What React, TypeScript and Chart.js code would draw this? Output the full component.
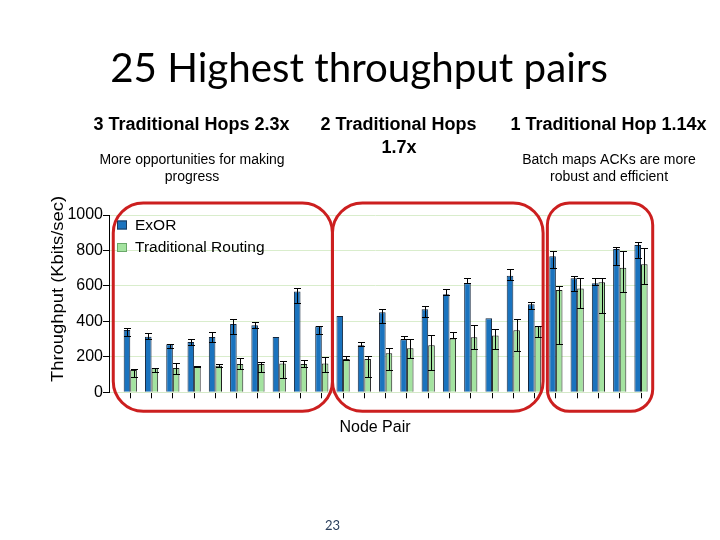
import { useEffect, useRef } from 'react';
import { Chart, registerables } from 'chart.js';

Chart.register(...registerables);

// ---- data ----
const pairs = [1, 2, 3, 4, 5, 6, 7, 8, 9, 10, 11, 12, 13, 14, 15, 16, 17, 18, 19, 20, 21, 22, 23, 24, 25];
const yTicks = [0, 200, 400, 600, 800, 1000];

const exor = [351, 314, 271, 284, 312, 385, 378, 312, 569, 372, 430, 265, 451, 299, 468, 553, 615, 417, 658, 496, 767, 643, 615, 808, 831];
const exorLo = [318, 299, 248, 267, 285, 327, 361, null, 505, 329, null, 263, 389, 299, 425, 549, 615, null, 633, 470, 699, 571, 605, 718, 756];
const exorHi = [364, 333, 271, 299, 338, 412, 395, null, 587, 372, null, 282, 470, 318, 485, 581, 643, null, 694, 511, 795, 658, 643, 821, 849];

const trad = [126, 137, 137, 148, 150, 160, 160, 163, 160, 163, 188, 188, 220, 248, 265, 304, 310, 321, 350, 372, 577, 586, 620, 703, 722];
const tradLo = [85, 113, 103, 141, 143, 130, 116, 79, 141, 113, 182, 88, 124, 192, 126, 304, 244, 242, 235, 314, 272, 474, 449, 567, 609];
const tradHi = [133, 137, 164, 150, 160, 192, 169, 175, 180, 197, 203, 206, 252, 299, 323, 342, 378, 355, 412, 372, 601, 643, 646, 797, 812];

const seriesNames = ['ExOR', 'Traditional Routing'];
const chartTitle = '25 Highest throughput pairs';
const xTitle = 'Node Pair';
const yTitle = 'Throughput (Kbits/sec)';
const pageNumber = '23';

// group highlight boxes, in x-axis units
const groupSpans = [
  [0.2, 10.5],
  [10.5, 20.4],
  [20.6, 25.55],
];
const groupRadius = [30, 30, 22];

const BLUE = '#1a73be';
const GREEN = '#a4e3a0';
const RED = '#cc1f1f';
const FONT = "'Liberation Sans', Arial, sans-serif";

const errorBarsPlugin = {
  id: 'errorBars',
  afterDatasetsDraw(chart: any) {
    const ctx = chart.ctx;
    const ys = chart.scales.y;
    const sets = [
      [exorLo, exorHi],
      [tradLo, tradHi],
    ];
    ctx.save();
    ctx.strokeStyle = '#000';
    ctx.lineWidth = 1;
    sets.forEach(([lo, hi], di) => {
      const meta = chart.getDatasetMeta(di);
      meta.data.forEach((bar: any, i: number) => {
        if (lo[i] == null || hi[i] == null) return;
        const x = Math.round(bar.x) + 0.5;
        const y1 = Math.round(ys.getPixelForValue(lo[i] as number)) + 0.5;
        const y2 = Math.round(ys.getPixelForValue(hi[i] as number)) + 0.5;
        ctx.beginPath();
        ctx.moveTo(x, y1);
        ctx.lineTo(x, y2);
        ctx.moveTo(x - 3.5, y1);
        ctx.lineTo(x + 3.5, y1);
        ctx.moveTo(x - 3.5, y2);
        ctx.lineTo(x + 3.5, y2);
        ctx.stroke();
      });
    });
    ctx.restore();
  },
};

function roundRect(ctx: CanvasRenderingContext2D, x: number, y: number, w: number, h: number, r: number) {
  ctx.beginPath();
  ctx.moveTo(x + r, y);
  ctx.lineTo(x + w - r, y);
  ctx.arcTo(x + w, y, x + w, y + r, r);
  ctx.lineTo(x + w, y + h - r);
  ctx.arcTo(x + w, y + h, x + w - r, y + h, r);
  ctx.lineTo(x + r, y + h);
  ctx.arcTo(x, y + h, x, y + h - r, r);
  ctx.lineTo(x, y + r);
  ctx.arcTo(x, y, x + r, y, r);
  ctx.closePath();
}

const decorPlugin = {
  id: 'decor',
  afterDraw(chart: any) {
    const ctx: CanvasRenderingContext2D = chart.ctx;
    const xs = chart.scales.x;
    const area = chart.chartArea;
    ctx.save();

    // legend inside plot
    const lx = area.left + 8;
    const colors = [BLUE, GREEN];
    seriesNames.forEach((name, i) => {
      const cy = area.top + 10 + i * 22.5;
      ctx.fillStyle = chart.data.datasets[i].backgroundColor || colors[i];
      ctx.fillRect(lx, cy - 4.5, 10, 9);
      ctx.strokeStyle = i === 0 ? '#1b3a5c' : '#6aa86a';
      ctx.lineWidth = 1;
      ctx.strokeRect(lx + 0.5, cy - 4, 9, 8);
      ctx.fillStyle = '#000';
      ctx.font = `15.5px ${FONT}`;
      ctx.textAlign = 'left';
      ctx.textBaseline = 'middle';
      ctx.fillText(name, lx + 18, cy + 0.5);
    });

    // y-axis title (stretched along its length like the source image)
    ctx.save();
    ctx.translate(59, 289);
    ctx.rotate(-Math.PI / 2);
    ctx.scale(1.15, 1);
    ctx.fillStyle = '#000';
    ctx.font = `16px ${FONT}`;
    ctx.textAlign = 'center';
    ctx.textBaseline = 'middle';
    ctx.fillText(yTitle, 0, 0);
    ctx.restore();

    // red group outlines
    ctx.strokeStyle = RED;
    ctx.lineWidth = 3;
    groupSpans.forEach(([a, b], i) => {
      const x1 = xs.getPixelForValue(a);
      const x2 = xs.getPixelForValue(b);
      const top = area.top - 12;
      const bottom = area.bottom + 19;
      roundRect(ctx, x1, top, x2 - x1, bottom - top, groupRadius[i]);
      ctx.stroke();
    });

    // title
    ctx.fillStyle = '#000';
    ctx.textAlign = 'center';
    ctx.textBaseline = 'alphabetic';
    ctx.font = `40.3px Lato, 'Open Sans', sans-serif`;
    ctx.fillText(chartTitle, 359, 82);

    // group annotations
    ctx.font = `bold 18px ${FONT}`;
    ctx.fillText('3 Traditional Hops 2.3x', 191.5, 130);
    ctx.fillText('2 Traditional Hops', 398.5, 130);
    ctx.fillText('1.7x', 399, 153);
    ctx.fillText('1 Traditional Hop 1.14x', 608.5, 130);

    ctx.font = `14px ${FONT}`;
    ctx.fillText('More opportunities for making', 192, 164);
    ctx.fillText('progress', 192, 181);
    ctx.fillText('Batch maps ACKs are more', 609, 164);
    ctx.fillText('robust and efficient', 609, 181);

    // page number
    ctx.fillStyle = '#2b3f5c';
    ctx.font = `13px Lato, sans-serif`;
    ctx.fillText(pageNumber, 332.5, 530);

    ctx.restore();
  },
};

export default function App() {
  const canvasRef = useRef<HTMLCanvasElement | null>(null);

  useEffect(() => {
    if (!canvasRef.current) return;
    Chart.defaults.font.family = FONT;
    const chart = new Chart(canvasRef.current, {
      type: 'bar',
      data: {
        datasets: [
          {
            label: seriesNames[0],
            data: pairs.map((p, i) => ({ x: p, y: exor[i] })),
            backgroundColor: BLUE,
            borderColor: '#14263d',
            borderWidth: 1,
            categoryPercentage: 0.62,
            barPercentage: 1,
            clip: false as any,
          },
          {
            label: seriesNames[1],
            data: pairs.map((p, i) => ({ x: p, y: trad[i] })),
            backgroundColor: GREEN,
            borderColor: '#1e1e1e',
            borderWidth: 1,
            categoryPercentage: 0.62,
            barPercentage: 1,
            clip: false as any,
          },
        ],
      },
      options: {
        responsive: false,
        animation: false,
        events: [],
        layout: { padding: { left: 45, top: 215, right: 79, bottom: 98.4 } },
        plugins: {
          legend: { display: false },
          tooltip: { enabled: false },
          title: { display: false },
        },
        scales: {
          x: {
            type: 'linear',
            min: 0,
            max: 25,
            offset: false,
            afterBuildTicks: (s: any) => {
              s.ticks = pairs.map((p) => ({ value: p }));
            },
            afterFit: (s: any) => {
              s.height = 49.3;
            },
            ticks: { display: false },
            grid: { drawOnChartArea: false, offset: false, tickLength: 6, tickColor: '#000' },
            border: { color: '#d5e9c8' },
            title: {
              display: true,
              text: xTitle,
              color: '#000',
              font: { family: FONT, size: 16 },
              padding: { top: 4, bottom: 4 },
            },
          },
          y: {
            min: 0,
            max: 1000,
            afterBuildTicks: (s: any) => {
              s.ticks = yTicks.map((v) => ({ value: v }));
            },
            afterFit: (s: any) => {
              s.width = 64;
            },
            ticks: {
              padding: 0,
              color: '#000',
              font: { family: FONT, size: 16 },
              callback: (v: any) => String(v),
            },
            grid: { color: '#d9edcc', tickColor: '#000', tickLength: 6 },
            border: { color: '#000' },
            title: { display: false },
          },
        },
      } as any,
      plugins: [errorBarsPlugin, decorPlugin],
    });
    return () => chart.destroy();
  }, []);

  return (
    <div style={{ position: 'absolute', left: 0, top: 0, width: 720, height: 540, background: '#fff' }}>
      <canvas ref={canvasRef} width={720} height={540} style={{ display: 'block', width: 720, height: 540 }} />
    </div>
  );
}
